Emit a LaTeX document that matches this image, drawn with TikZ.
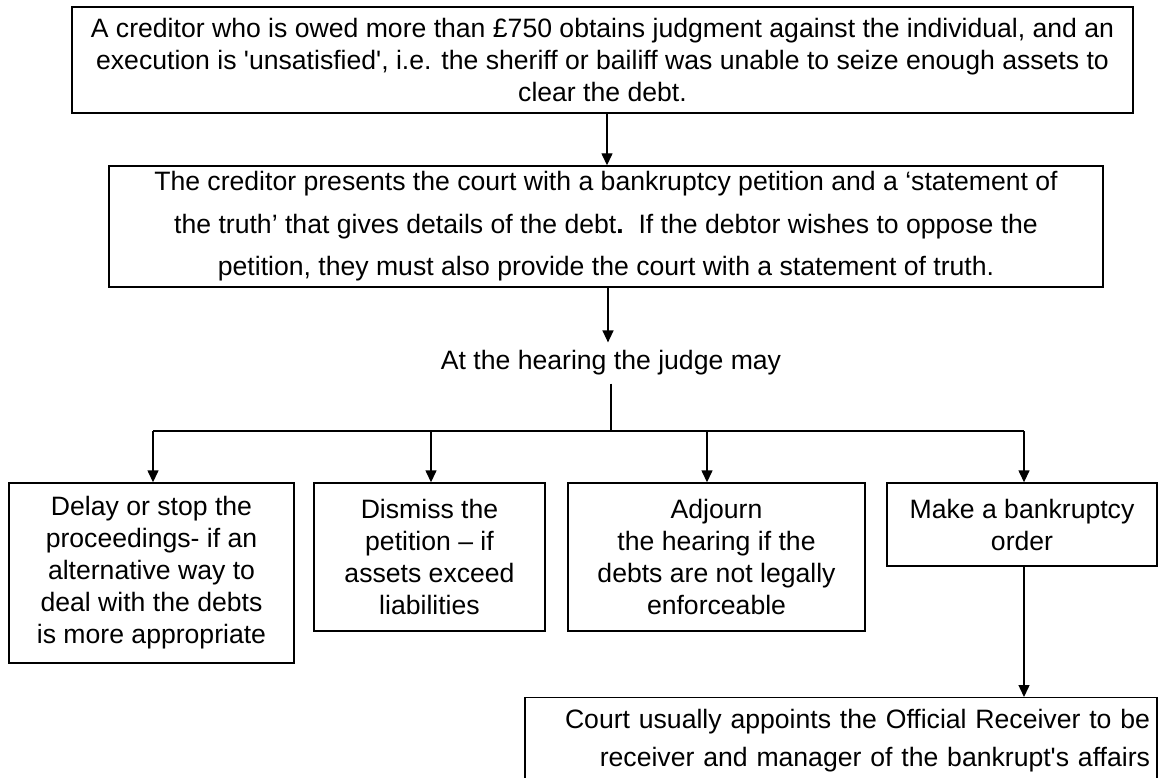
\documentclass[tikz,border=0pt]{standalone}
\usepackage{fontspec}
\setmainfont{Liberation Sans}[Ligatures=TeXOff]
\usetikzlibrary{arrows.meta}
\begin{document}
\begin{tikzpicture}[x=1pt,y=-1pt,
  box/.style={draw=black, line width=1.4pt, rectangle, inner sep=0pt,
              align=center, font=\fontsize{26.6}{32}\selectfont},
  wide/.style={font=\fontsize{26.6}{42.5}\selectfont},
  tall/.style={font=\fontsize{26.6}{38}\selectfont},
  arr/.style={line width=1.4pt, -{Triangle[length=12pt,width=11pt]}},
  wire/.style={line width=1.4pt}]
\clip (0,0) rectangle (1159,778);
\fill[white] (0,0) rectangle (1159,778);

% stage 1: the judgment
\node[box, minimum width=1061pt, minimum height=106pt] (creditor) at (602.5,60)
  {A creditor who is owed more than £750 obtains judgment against the individual, and an\\
   execution is 'unsatisfied', i.e. the sheriff or bailiff was unable to seize enough assets to\\
   clear the debt.};

% stage 2: the petition
\node[box, wide, minimum width=994pt, minimum height=121pt] (petition) at (606,226.5)
  {The creditor presents the court with a bankruptcy petition and a ‘statement of\\
   the truth’ that gives details of the debt\textbf{.}\ \ If the debtor wishes to oppose the\\
   petition, they must also provide the court with a statement of truth.};

% stage 3: the hearing
\node[font=\fontsize{26.6}{32}\selectfont, inner xsep=0pt, inner ysep=8pt] (hearing) at (611,363)
  {At the hearing the judge may};

% possible outcomes
\node[box, minimum width=285pt, minimum height=180pt] (delay) at (151.5,573)
  {Delay or stop the\\ proceedings- if an\\ alternative way to\\ deal with the debts\\ is more appropriate};
\node[box, minimum width=231pt, minimum height=148pt] (dismiss) at (429.5,557)
  {Dismiss the\\ petition – if\\ assets exceed\\ liabilities};
\node[box, minimum width=297pt, minimum height=148pt] (adjourn) at (716.5,557)
  {Adjourn\\ the hearing if the\\ debts are not legally\\ enforceable};
\node[box, minimum width=270pt, minimum height=83pt] (order) at (1022,524.5)
  {Make a bankruptcy\\ order};

% after the order (its lower edge runs off the page)
\node[box, tall, anchor=north, minimum height=86pt, text width=618pt, inner xsep=7pt,
      align=right] (receiver) at (841,697)
  {Court usually appoints the Official Receiver to be\\
   receiver and manager of the bankrupt's affairs};

% connectors
\draw[arr] ([xshift=4.5pt]creditor.south) -- ([xshift=1pt]petition.north);
\draw[arr] ([xshift=2pt]petition.south) -- ([xshift=-3pt]hearing.north);

\coordinate (bus) at (611,431);
\coordinate (dA) at (153,431);
\coordinate (dB) at (431,431);
\coordinate (dC) at (707,431);
\coordinate (dD) at (1024,431);

\draw[wire] (hearing.south) -- (bus);
\draw[wire] (dA) -- (dD);
\draw[arr] (dA) -- (dA |- delay.north);
\draw[arr] (dB) -- (dB |- dismiss.north);
\draw[arr] (dC) -- (dC |- adjourn.north);
\draw[arr] (dD) -- (dD |- order.north);
\draw[arr] (dD |- order.south) -- (dD |- receiver.north);
\end{tikzpicture}
\end{document}
